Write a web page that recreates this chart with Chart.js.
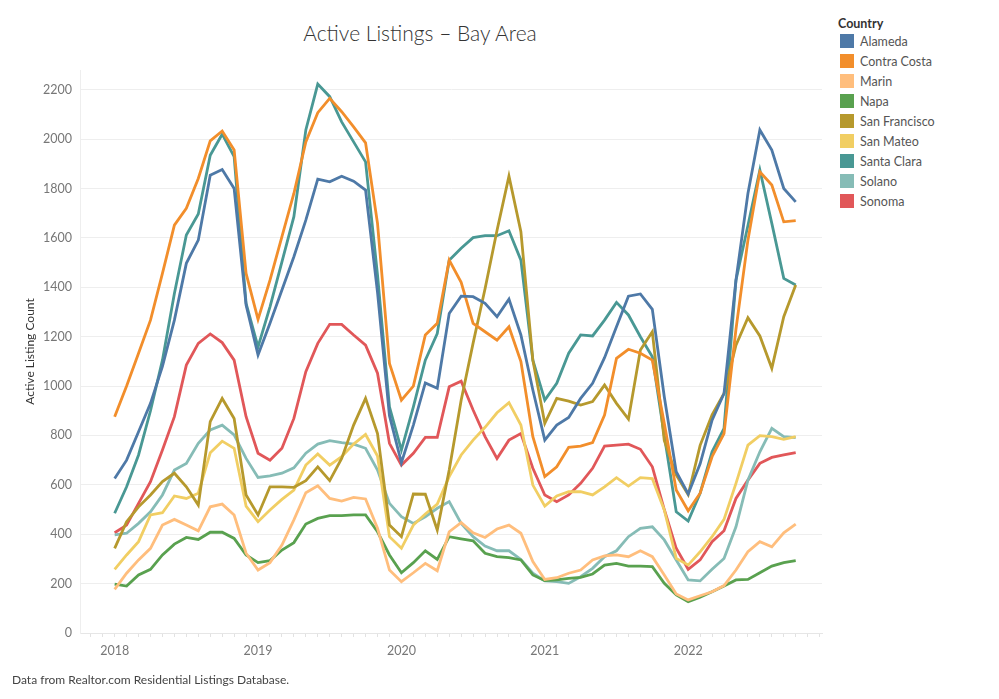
<!DOCTYPE html>
<html>
<head>
<meta charset="utf-8">
<script src="https://cdn.jsdelivr.net/npm/chart.js@4.4.0/dist/chart.umd.min.js"></script>
<style>
  html, body { margin: 0; padding: 0; background: #fff; }
  body { width: 999px; height: 699px; position: relative; overflow: hidden; font-family: Lato, "Open Sans", sans-serif; }
  #chart-wrap { position: absolute; left: 0; top: 0; width: 826px; height: 699px; }
  #title { position: absolute; left: 0; width: 840px; top: 20px; text-align: center; font-size: 21px; font-weight: 300; color: #333; }
  #legend { position: absolute; left: 838px; top: 16px; font-size: 12.5px; color: #555; }
  #legend .head { font-weight: bold; color: #333; margin-bottom: 0; }
  #legend .row { height: 20px; display: flex; align-items: center; }
  #legend .sw { width: 14px; height: 14px; margin: 0 6px 0 2px; }
  #footer { position: absolute; left: 12px; top: 672px; font-size: 12px; color: #444; }
</style>
</head>
<body>
<div id="title">Active Listings – Bay Area</div>
<div id="chart-wrap"><canvas id="chart" width="826" height="699"></canvas></div>
<div id="legend"></div>
<div id="footer">Data from Realtor.com Residential Listings Database.</div>
<script>
// monthly values, Jan 2018 .. Oct 2022
const firstYear = 2018;
const counties = ['Alameda', 'Contra Costa', 'Marin', 'Napa', 'San Francisco', 'San Mateo', 'Santa Clara', 'Solano', 'Sonoma'];
const colors = ['#4e79a7', '#f28e2b', '#ffbe7d', '#59a14f', '#b6992d', '#f1ce63', '#499894', '#86bcb6', '#e15759'];

const alameda = [626, 700, 815, 930, 1080, 1267, 1497, 1591, 1854, 1877, 1800, 1328,
  1126, 1254, 1389, 1524, 1672, 1838, 1827, 1850, 1830, 1794, 1380, 880,
  690, 842, 1013, 991, 1294, 1364, 1362, 1335, 1281, 1352, 1207, 984,
  781, 842, 873, 950, 1011, 1115, 1240, 1364, 1373, 1311, 957, 653,
  563, 685, 862, 970, 1429, 1780, 2037, 1956, 1800, 1746];
const contraCosta = [876, 1000, 1133, 1267, 1456, 1652, 1720, 1841, 1993, 2033, 1956, 1456,
  1270, 1429, 1605, 1780, 1989, 2107, 2165, 2111, 2050, 1985, 1659, 1092,
  943, 1000, 1207, 1254, 1510, 1420, 1254, 1220, 1186, 1240, 1099, 795,
  633, 673, 752, 757, 771, 883, 1112, 1149, 1133, 1105, 849, 579,
  495, 566, 714, 808, 1230, 1591, 1868, 1814, 1665, 1670];
const marin = [177, 242, 296, 343, 437, 460, 437, 414, 511, 522, 478, 323,
  255, 285, 356, 458, 568, 596, 545, 534, 549, 543, 424, 255,
  208, 244, 282, 252, 410, 447, 406, 387, 421, 437, 404, 289,
  217, 224, 242, 255, 296, 312, 316, 309, 333, 309, 235, 158,
  134, 151, 167, 192, 255, 329, 370, 349, 406, 441];
const napa = [198, 190, 235, 258, 316, 360, 387, 379, 408, 408, 383, 316,
  285, 293, 336, 366, 441, 464, 475, 475, 478, 478, 410, 316,
  244, 285, 333, 298, 390, 381, 373, 323, 309, 305, 296, 235,
  212, 215, 221, 225, 239, 275, 282, 271, 271, 269, 201, 154,
  127, 145, 167, 190, 215, 217, 244, 271, 285, 293];
const sanFrancisco = [343, 451, 511, 559, 613, 647, 592, 518, 856, 950, 869, 559,
  478, 592, 592, 590, 617, 673, 617, 707, 842, 950, 808, 437,
  390, 563, 562, 417, 660, 943, 1174, 1394, 1630, 1850, 1625, 1105,
  849, 950, 939, 923, 937, 1004, 930, 866, 1146, 1220, 780, 640,
  560, 760, 883, 970, 1166, 1277, 1203, 1072, 1281, 1409];
const sanMateo = [258, 316, 370, 478, 487, 555, 545, 566, 730, 777, 748, 514,
  451, 498, 541, 579, 680, 725, 680, 714, 765, 804, 717, 390,
  343, 437, 482, 522, 633, 721, 781, 833, 892, 933, 842, 599,
  514, 555, 572, 572, 559, 592, 629, 595, 629, 625, 498, 302,
  275, 329, 390, 460, 606, 761, 799, 795, 784, 795];
const santaClara = [485, 592, 721, 900, 1105, 1375, 1612, 1697, 1935, 2020, 1929, 1335,
  1159, 1321, 1503, 1686, 2037, 2223, 2172, 2070, 1989, 1908, 1450, 916,
  741, 916, 1105, 1213, 1510, 1558, 1601, 1609, 1609, 1629, 1510, 1105,
  943, 1011, 1133, 1207, 1203, 1267, 1339, 1288, 1200, 1119, 800, 491,
  453, 566, 734, 829, 1429, 1650, 1875, 1659, 1436, 1409];
const solano = [397, 404, 444, 491, 559, 660, 687, 768, 822, 842, 802, 707,
  630, 636, 647, 669, 728, 765, 779, 771, 765, 748, 660, 525,
  471, 444, 471, 505, 532, 444, 390, 352, 333, 333, 298, 242,
  211, 208, 201, 228, 262, 309, 333, 390, 424, 430, 377, 296,
  215, 211, 258, 302, 430, 619, 734, 829, 795, 791];
const sonoma = [406, 437, 525, 613, 741, 876, 1085, 1173, 1211, 1176, 1105, 876,
  728, 700, 748, 869, 1058, 1173, 1250, 1250, 1207, 1166, 1052, 768,
  680, 728, 792, 792, 997, 1020, 903, 795, 707, 781, 808, 667,
  559, 532, 559, 606, 667, 757, 761, 765, 744, 673, 500, 343,
  258, 296, 370, 414, 545, 619, 687, 711, 721, 730];

const series = [alameda, contraCosta, marin, napa, sanFrancisco, sanMateo, santaClara, solano, sonoma];
const yTicks = [0, 200, 400, 600, 800, 1000, 1200, 1400, 1600, 1800, 2000, 2200];

// legend
const legend = document.getElementById('legend');
legend.innerHTML = '<div class="head">Country</div>' + counties.map((c, i) =>
  '<div class="row"><span class="sw" style="background:' + colors[i] + '"></span>' + c + '</div>').join('');

const datasets = counties.map((name, i) => ({
  label: name,
  data: series[i].map((v, m) => ({ x: m, y: v })),
  borderColor: colors[i],
  backgroundColor: colors[i],
  borderWidth: 2.8,
  pointRadius: 0,
  tension: 0,
  fill: false
}));

new Chart(document.getElementById('chart'), {
  type: 'line',
  data: { datasets },
  options: {
    responsive: false,
    animation: false,
    layout: { padding: { top: 70, right: 4, bottom: 0, left: 0 } },
    plugins: { legend: { display: false }, tooltip: { enabled: false } },
    scales: {
      x: {
        type: 'linear',
        min: -2.9,
        max: 59.2,
        afterFit: s => { s.height = 66; },
        afterBuildTicks: s => {
          const t = [];
          for (let m = -2; m <= 59; m++) t.push({ value: m });
          s.ticks = t;
        },
        ticks: {
          autoSkip: false,
          maxRotation: 0,
          padding: 6,
          color: '#777',
          font: { family: 'Lato', size: 12.5 },
          callback: v => (v % 12 === 0 ? String(firstYear + v / 12) : '')
        },
        grid: { drawOnChartArea: false, drawTicks: true, tickLength: 4, color: '#e2e2e2' },
        border: { display: true, color: '#e6e6e6' }
      },
      y: {
        min: 0,
        max: 2280,
        afterFit: s => { s.width = 80; },
        afterBuildTicks: s => { s.ticks = yTicks.map(v => ({ value: v })); },
        ticks: {
          padding: 8,
          color: '#777',
          font: { family: 'Lato', size: 12.5 },
          callback: v => String(v)
        },
        grid: { color: '#eeeeee', drawTicks: false },
        border: { display: true, color: '#eeeeee' },
        title: {
          display: true,
          text: 'Active Listing Count',
          color: '#333',
          font: { family: 'Lato', size: 12 },
          padding: { top: 23, bottom: 0 }
        }
      }
    }
  }
});
</script>
</body>
</html>
